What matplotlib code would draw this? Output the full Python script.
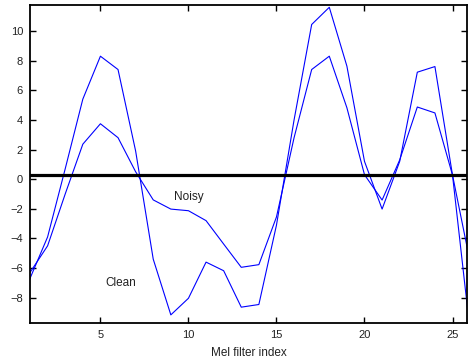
import matplotlib
matplotlib.use("Agg")
import matplotlib.pyplot as plt
import numpy as np

# mel filter index 1..26
idx = list(range(1, 27))

clean = [-6.7, -3.9, 0.7, 5.4, 8.3, 7.4, 1.9, -5.4, -9.16, -8.04,
         -5.6, -6.18, -8.64, -8.46, -3.1, 4.0, 10.44, 11.6, 7.63, 1.2,
         -2.02, 1.2, 7.22, 7.6, 0.27, -10.3]
noisy = [-6.3, -4.5, -1.0, 2.36, 3.74, 2.8, 0.5, -1.4, -2.02, -2.13,
         -2.8, -4.38, -5.95, -5.77, -2.55, 2.8, 7.4, 8.3, 4.82, 0.3,
         -1.41, 1.3, 4.87, 4.47, 0.27, -5.6]

threshold = 0.25

plt.rcParams['font.family'] = ['Liberation Sans', 'DejaVu Sans']

fig = plt.figure(figsize=(4.68, 3.6), dpi=100)
ax = fig.add_axes([0.0641, 0.1019, 0.9348, 0.884])

ax.plot(idx, clean, color='#0000ff', lw=0.8)
ax.plot(idx, noisy, color='#0000ff', lw=0.8)
ax.axhline(threshold, color='black', lw=2.3)

ax.text(10.0, -1.2, 'Noisy', fontsize=8.5, ha='center', va='center', color='#222222')
ax.text(6.15, -7.0, 'Clean', fontsize=8.5, ha='center', va='center', color='#222222')

ax.set_xlim(1, 25.85)
ax.set_ylim(-9.73, 11.75)
ax.set_xticks([5, 10, 15, 20, 25])
ax.set_yticks(np.arange(-8, 11, 2))
ax.tick_params(direction='in', length=4, width=1, labelsize=8,
               top=True, right=True, pad=5, labelcolor='#222222')
for s in ax.spines.values():
    s.set_linewidth(1.3)
ax.set_xlabel('Mel filter index', fontsize=8.5, labelpad=5, color='#222222')

fig.savefig('out.png', dpi=100)
